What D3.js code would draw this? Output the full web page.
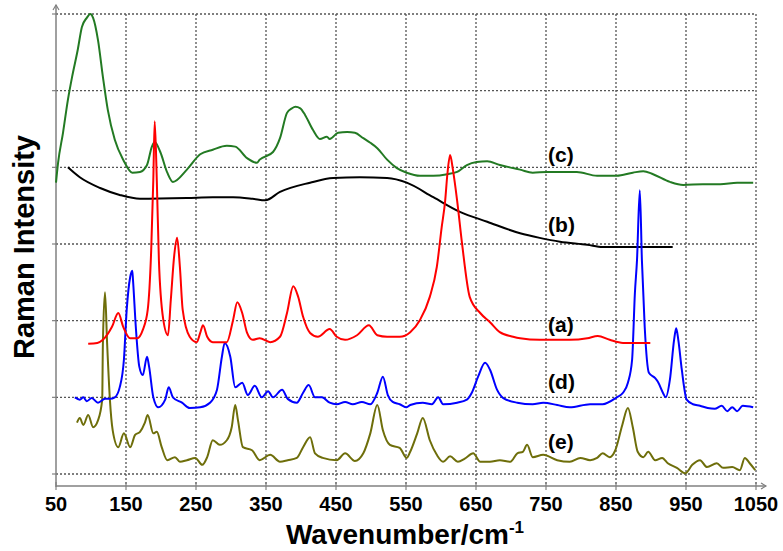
<!DOCTYPE html>
<html><head><meta charset="utf-8">
<script src="https://cdn.jsdelivr.net/npm/d3@7"></script>
<style>
html,body{margin:0;padding:0;background:#fff;}
svg{display:block;font-family:"Liberation Sans",Arial,sans-serif;}
</style></head>
<body>
<svg id="chart" width="783" height="551"></svg>
<script>
// ---- data (wavenumber, relative intensity in arbitrary units) ----
const xTicks = [50,150,250,350,450,550,650,750,850,950,1050];
const yGrid = [0,100,200,300,400,500,600];

const seriesC = [[50,380],[53,406],[60,445],[67,488],[73,518],[81,553],[87,583],[94,595],[99,600],[103,595],[110,566],[117,518],[124,475],[134,436],[146,410],[159,393],[170,394],[180,403],[187,427],[191,433],[199,420],[209,393],[217,381],[237,397],[256,417],[274,423],[294,428],[306,427],[323,412],[337,406],[341,410],[360,420],[370,438],[380,471],[387,477],[392,479],[399,477],[406,468],[417,449],[427,437],[437,440],[441,437],[453,445],[466,446],[477,445],[489,438],[499,432],[509,425],[523,410],[537,399],[551,393],[570,389],[589,389],[609,391],[623,394],[637,403],[651,407],[666,408],[684,403],[703,399],[713,397],[731,393],[751,394],[774,394],[794,394],[823,389],[851,389],[874,393],[889,395],[903,391],[927,381],[946,377],[974,378],[999,378],[1023,380],[1046,380]];

const seriesB = [[67,400],[84,387],[113,373],[141,364],[170,359],[237,360],[274,361],[303,361],[331,359],[349,357],[370,368],[413,380],[446,386],[484,387],[523,386],[551,380],[589,361],[627,342],[666,329],[713,314],[741,308],[770,303],[809,299],[831,296],[931,296]];

const seriesA = [[96,170],[109,171],[117,175],[130,192],[139,210],[146,192],[156,177],[166,177],[174,188],[181,214],[186,292],[189,383],[191,460],[194,383],[197,279],[203,203],[210,181],[214,227],[219,286],[223,308],[227,270],[231,214],[241,179],[251,172],[256,184],[260,194],[266,179],[274,172],[294,172],[303,201],[309,224],[316,210],[323,184],[331,175],[341,177],[356,172],[370,179],[380,210],[389,245],[396,231],[403,205],[413,184],[424,179],[441,189],[451,179],[463,175],[480,181],[497,194],[509,181],[523,179],[541,179],[556,185],[570,201],[584,231],[594,270],[601,322],[606,357],[609,390],[613,416],[617,397],[623,357],[630,301],[641,231],[656,210],[670,198],[684,185],[703,179],[713,177],[741,175],[784,175],[809,177],[824,180],[841,175],[860,171],[899,171]];

const seriesD = [[77,100],[84,97],[89,100],[94,95],[101,99],[110,93],[120,98],[127,98],[134,100],[141,113],[147,149],[151,214],[156,257],[159,265],[160,253],[164,192],[169,140],[174,129],[180,153],[183,140],[189,100],[196,87],[206,97],[211,113],[217,100],[230,93],[241,86],[256,87],[270,93],[280,110],[287,153],[291,171],[299,153],[306,113],[316,119],[324,103],[334,115],[344,100],[353,108],[360,100],[373,110],[381,98],[394,93],[403,106],[411,116],[420,100],[430,100],[441,93],[451,91],[463,94],[474,91],[487,94],[499,91],[509,106],[517,127],[524,103],[531,94],[541,91],[551,87],[556,90],[574,93],[587,91],[596,100],[603,91],[623,93],[637,97],[644,106],[653,127],[663,145],[670,136],[680,110],[689,99],[709,93],[731,91],[746,93],[766,90],[784,87],[813,91],[831,91],[851,100],[860,106],[867,119],[873,149],[877,236],[880,279],[884,370],[887,279],[891,192],[897,132],[906,125],[910,120],[917,106],[921,100],[927,123],[933,175],[936,190],[939,175],[944,136],[951,97],[960,91],[970,89],[981,86],[991,85],[1001,89],[1009,82],[1016,87],[1023,82],[1031,89],[1046,87]];

const seriesE = [[80,67],[84,73],[89,64],[96,77],[103,61],[110,70],[116,97],[117,171],[120,237],[123,171],[127,97],[131,57],[139,35],[147,53],[156,35],[163,51],[170,55],[177,67],[181,77],[189,53],[194,55],[201,35],[209,18],[220,22],[227,16],[237,18],[249,21],[259,12],[266,22],[274,44],[284,38],[294,44],[301,61],[306,90],[310,70],[317,35],[330,31],[341,18],[356,25],[370,16],[381,18],[394,21],[403,35],[413,48],[420,27],[431,21],[451,18],[463,27],[477,17],[489,27],[499,53],[509,90],[517,57],[527,38],[541,34],[551,21],[556,29],[566,53],[574,73],[584,44],[594,25],[603,16],[613,23],[624,16],[634,20],[646,27],[656,16],[670,16],[684,18],[699,16],[709,27],[717,29],[723,38],[731,22],[746,25],[766,18],[784,16],[799,21],[813,18],[823,21],[831,27],[841,22],[849,31],[859,64],[867,86],[874,61],[881,29],[889,22],[896,29],[906,18],[916,21],[924,14],[937,8],[949,1],[959,12],[970,18],[980,9],[994,14],[1003,8],[1016,9],[1027,5],[1034,21],[1041,14],[1049,5]];

const labelNames = ["(c)","(b)","(a)","(d)","(e)"];
const labelWave  = [753,753,753,753,753];
const labelValue = [407,316,185,111,33];

// ---- layout ----
const svg = d3.select("#chart");
const plotLeft = 56, plotRight = 756, plotTop = 14, plotBottom = 486;
const x = d3.scaleLinear().domain([50,1050]).range([plotLeft, plotRight]);
const y = d3.scaleLinear().domain([0,600]).range([474, 14]);

const gridColor = "#555";
// horizontal grid
svg.append("g").selectAll("line").data(yGrid).join("line")
  .attr("x1", plotLeft).attr("x2", plotRight)
  .attr("y1", d=>y(d)).attr("y2", d=>y(d))
  .attr("stroke", gridColor).attr("stroke-width", 1.3).attr("stroke-dasharray","2,2");
// vertical grid
svg.append("g").selectAll("line").data(xTicks.slice(1)).join("line")
  .attr("x1", d=>x(d)).attr("x2", d=>x(d))
  .attr("y1", plotTop).attr("y2", plotBottom)
  .attr("stroke", gridColor).attr("stroke-width", 1.3).attr("stroke-dasharray","2,2");

// axes
const axisColor = "#808080";
svg.append("line").attr("x1", plotLeft).attr("x2", plotLeft).attr("y1", plotBottom+1).attr("y2", 5)
  .attr("stroke", axisColor).attr("stroke-width", 1.5);
svg.append("path").attr("d", `M${plotLeft-3},10 L${plotLeft},5 L${plotLeft+3},10`)
  .attr("fill","none").attr("stroke", axisColor).attr("stroke-width",1.2);
svg.append("line").attr("x1", plotLeft).attr("x2", 766).attr("y1", plotBottom).attr("y2", plotBottom)
  .attr("stroke", axisColor).attr("stroke-width", 1.5);
svg.append("path").attr("d", `M761,${plotBottom-3} L766,${plotBottom} L761,${plotBottom+3}`)
  .attr("fill","none").attr("stroke", axisColor).attr("stroke-width",1.2);
// y ticks
svg.append("g").selectAll("line").data(yGrid).join("line")
  .attr("x1", plotLeft-4).attr("x2", plotLeft).attr("y1", d=>y(d)).attr("y2", d=>y(d))
  .attr("stroke", axisColor).attr("stroke-width", 1.2);
// x ticks
svg.append("g").selectAll("line").data(xTicks).join("line")
  .attr("x1", d=>x(d)).attr("x2", d=>x(d)).attr("y1", plotBottom-4).attr("y2", plotBottom+4)
  .attr("stroke", axisColor).attr("stroke-width", 1.2);
// x tick labels
svg.append("g").selectAll("text").data(xTicks).join("text")
  .attr("x", d=>x(d)).attr("y", 511).attr("text-anchor","middle")
  .attr("font-size", 20).attr("font-weight","bold").attr("fill","#000")
  .text(d=>d);

// axis titles
const xt = svg.append("text").attr("x", 405).attr("y", 544).attr("text-anchor","middle")
  .attr("font-size", 28).attr("font-weight","bold").attr("fill","#000");
xt.append("tspan").text("Wavenumber/cm");
xt.append("tspan").attr("dy", -11).attr("font-size", 17).text("-1");

svg.append("text").attr("transform","translate(34,247) rotate(-90)").attr("text-anchor","middle")
  .attr("font-size", 29).attr("font-weight","bold").attr("fill","#000").text("Raman Intensity");

// series
const line = d3.line().x(d=>x(d[0])).y(d=>y(d[1])).curve(d3.curveMonotoneX);
const series = [
  {data: seriesC, color: "#237a23"},
  {data: seriesB, color: "#000000"},
  {data: seriesE, color: "#6e6e0a"},
  {data: seriesD, color: "#0000ff"},
  {data: seriesA, color: "#ff0000"}
];
svg.append("g").selectAll("path").data(series).join("path")
  .attr("d", d=>line(d.data)).attr("fill","none")
  .attr("stroke", d=>d.color).attr("stroke-width", 2).attr("stroke-linejoin","round");

// curve labels
svg.append("g").selectAll("text").data(labelNames).join("text")
  .attr("x", (d,i)=>x(labelWave[i])).attr("y", (d,i)=>y(labelValue[i]))
  .attr("font-size", 21).attr("font-weight","bold").attr("fill","#000")
  .text(d=>d);
</script>
</body></html>
